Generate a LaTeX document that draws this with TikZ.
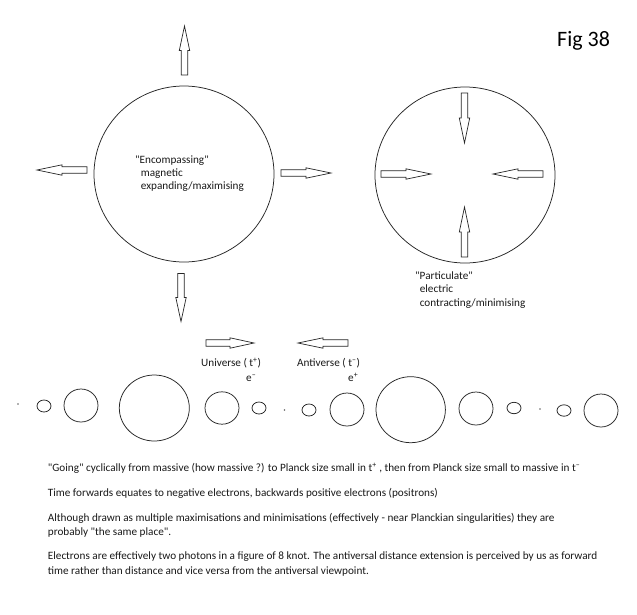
\documentclass[tikz,border=0pt]{standalone}
\usepackage{fontspec}
\setmainfont{Carlito}[Ligatures=TeXOff]
\newcommand{\blockarr}[4]{% x, y of tail centre, rotation, length
  \draw[barrowline, shift={(#1,#2)}, rotate=#3]
    (0,-3.2) -- ({#4/2},-3.2) -- ({#4/2},-5.2) -- (#4,0) -- ({#4/2},5.2) -- ({#4/2},3.2) -- (0,3.2) -- cycle;}
\begin{document}
\begin{tikzpicture}[x=1pt,y=-1pt,
  barrowline/.style={draw=black!85, fill=white, line width=0.7pt, line join=miter},
  ring/.style={draw=black!85, line width=0.75pt},
  txt/.style={anchor=base west, inner sep=0pt, font=\fontsize{11.2}{13.3}\selectfont, text=black!90},
  para/.style={anchor=base west, inner sep=0pt, font=\fontsize{11.2}{14.5}\selectfont, text=black!90, align=left}]
\useasboundingbox (0,0) rectangle (637,614);
\fill[white] (0,0) rectangle (637,614);

% title
\node[anchor=base west, inner sep=0pt, font=\fontsize{22}{24}\selectfont] (fig) at (557,46.7) {Fig 38};

% big circles
\draw[ring] (184,174) ellipse [x radius=90, y radius=88];
\draw[ring] (465,175) ellipse [x radius=90, y radius=88];

% outward arrows (left circle)
\blockarr{184.5}{75}{90}{49}
\blockarr{87}{170}{180}{50}
\blockarr{281}{173}{0}{50}
\blockarr{181}{273.5}{-90}{48}

% inward arrows (right circle)
\blockarr{464.5}{93}{-90}{50}
\blockarr{464.5}{257}{90}{50}
\blockarr{381}{174}{0}{50}
\blockarr{543}{174}{180}{50}

% circle labels
\node[txt] (enc) at (135,163) {"Encompassing"};
\node[txt] (mag) at (140.7,176.3) {magnetic};
\node[txt] (exp) at (140.7,189.6) {expanding/maximising};

\node[txt] (par) at (415,279.5) {"Particulate"};
\node[txt] (ele) at (419.6,292.8) {electric};
\node[txt] (con) at (419.6,306.1) {contracting/minimising};

% universe / antiverse arrows
\blockarr{206}{343}{0}{48}
\blockarr{348}{343}{180}{50}
\node[txt] (uni) at (201,366.7) {Universe ( t\textsuperscript{+})};
\node[txt] (em) at (246,381) {e\textsuperscript{–}};
\node[txt] (anti) at (297,366.7) {Antiverse ( t\textsuperscript{–})};
\node[txt] (ep) at (348,381) {e\textsuperscript{+}};

% row of circles
\fill[black!60] (18,404) circle (0.8);
\draw[ring] (44,406) ellipse [x radius=7, y radius=6];
\draw[ring] (81,405.5) ellipse [x radius=17, y radius=16.5];
\draw[ring] (154.3,408) ellipse [x radius=35, y radius=33];
\draw[ring] (222,408) ellipse [x radius=17, y radius=16.2];
\draw[ring] (259,408) ellipse [x radius=7, y radius=6];
\fill[black!60] (284.5,410) circle (0.8);
\draw[ring] (309,410) ellipse [x radius=7, y radius=6];
\draw[ring] (347,409.5) ellipse [x radius=17, y radius=16.5];
\draw[ring] (410.7,409.7) ellipse [x radius=34.7, y radius=33];
\draw[ring] (476,408.5) ellipse [x radius=17, y radius=16.5];
\draw[ring] (514,408) ellipse [x radius=7, y radius=5.7];
\fill[black!60] (540,409) circle (0.8);
\draw[ring] (564,410.5) ellipse [x radius=7, y radius=5.7];
\draw[ring] (601,410.5) ellipse [x radius=17, y radius=16.5];

% paragraphs
\node[para] (p1) at (47.7,471.7) {"Going" cyclically from massive (how massive ?) to Planck size small in t\textsuperscript{+} , then from Planck size small to massive in t\textsuperscript{–}};
\node[para] (p2) at (47.7,496.7) {Time forwards equates to negative electrons, backwards positive electrons (positrons)};
\node[para] (p3a) at (47.7,521) {Although drawn as multiple maximisations and minimisations (effectively - near Planckian singularities) they are};
\node[para] (p3b) at (47.7,535.7) {probably "the same place".};
\node[para] (p4a) at (47.7,559.3) {Electrons are effectively two photons in a figure of 8 knot. The antiversal distance extension is perceived by us as forward};
\node[para] (p4b) at (47.7,574) {time rather than distance and vice versa from the antiversal viewpoint.};
\end{tikzpicture}
\end{document}
